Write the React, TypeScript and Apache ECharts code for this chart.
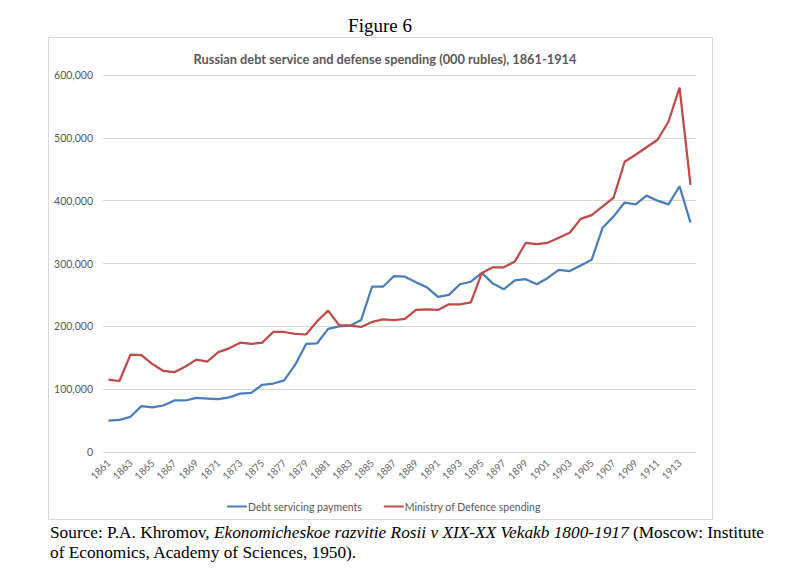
import React, { useEffect, useRef } from "react";
import * as echarts from "echarts";

// Years 1861-1914
const years: string[] = [];
for (let y = 1861; y <= 1914; y++) years.push(String(y));

// Debt servicing payments (000 rubles)
const debtService = [
  50000, 51000, 56000, 73000, 71000, 74000, 82000, 82000, 86000, 85000,
  84000, 87000, 93000, 94000, 107000, 109000, 114000, 139000, 172000, 173000,
  196000, 200000, 201000, 210000, 263000, 263000, 280000, 279000, 270000, 262000,
  247000, 250000, 267000, 271000, 285000, 268000, 259000, 273000, 275000, 267000,
  277000, 290000, 288000, 297000, 306000, 357000, 375000, 397000, 394000, 408000,
  400000, 394000, 423000, 365000,
];

// Ministry of Defence spending (000 rubles)
const defenceSpending = [
  115000, 113000, 155000, 154000, 140000, 129000, 127000, 136000, 147000, 144000,
  159000, 165000, 174000, 172000, 174000, 191000, 191000, 188000, 187000, 208000,
  225000, 202000, 201000, 199000, 207000, 211000, 210000, 212000, 226000, 227000,
  226000, 235000, 235000, 238000, 285000, 294000, 294000, 303000, 333000, 331000,
  333000, 341000, 349000, 371000, 377000, 391000, 405000, 462000, 473000, 485000,
  497000, 526000, 580000, 425000,
];

const seriesNames = ["Debt servicing payments", "Ministry of Defence spending"];
const figureLabel = "Figure 6";
const chartTitle = "Russian debt service and defense spending (000 rubles), 1861-1914";

const sansFont = "Lato, 'Open Sans', sans-serif";
const serifFont = "'Liberation Serif', 'DejaVu Serif', serif";

export default function App() {
  const ref = useRef<HTMLDivElement>(null);

  useEffect(() => {
    if (!ref.current) return;
    const chart = echarts.init(ref.current, undefined, { renderer: "svg" });
    chart.setOption({
      animation: false,
      backgroundColor: "#ffffff",
      title: {
        text: chartTitle,
        left: 380,
        textAlign: "center",
        top: 47,
        textStyle: {
          fontFamily: sansFont,
          fontSize: 12.8,
          fontWeight: "bold",
          color: "#595959",
        },
      },
      legend: {
        left: 222,
        top: 496,
        itemWidth: 20,
        itemHeight: 2,
        itemGap: 22,
        icon: "rect",
        textStyle: { fontFamily: sansFont, fontSize: 10.5, color: "#595959", padding: [0, 0, 0, -4] },
        data: seriesNames,
      },
      grid: { left: 103, right: 95, top: 75, bottom: 120 },
      xAxis: {
        type: "category",
        data: years,
        boundaryGap: true,
        axisLine: { lineStyle: { color: "#d9d9d9" } },
        axisTick: { show: false },
        axisLabel: {
          interval: 1,
          rotate: 45,
          margin: 9,
          fontFamily: sansFont,
          fontSize: 10,
          color: "#666666",
        },
      },
      yAxis: {
        type: "value",
        min: 0,
        max: 600000,
        interval: 100000,
        axisLine: { show: false },
        axisTick: { show: false },
        splitLine: { lineStyle: { color: "#d9d9d9" } },
        axisLabel: {
          margin: 10,
          fontFamily: sansFont,
          fontSize: 10.5,
          color: "#595959",
          formatter: (v: number) => v.toLocaleString("en-US"),
        },
      },
      series: [
        {
          name: seriesNames[0],
          type: "line",
          data: debtService,
          showSymbol: false,
          symbol: "none",
          lineStyle: { color: "#4a7ebb", width: 2.25 },
          itemStyle: { color: "#4a7ebb" },
        },
        {
          name: seriesNames[1],
          type: "line",
          data: defenceSpending,
          showSymbol: false,
          symbol: "none",
          lineStyle: { color: "#be4b48", width: 2.25 },
          itemStyle: { color: "#be4b48" },
        },
      ],
      graphic: [
        {
          type: "rect",
          silent: true,
          z: -1,
          shape: { x: 48.5, y: 37.5, width: 664, height: 482 },
          style: { fill: "none", stroke: "#d9d9d9", lineWidth: 1 },
        },
        {
          type: "text",
          x: 380,
          y: 16,
          style: {
            text: figureLabel,
            font: `19px ${serifFont}`,
            fill: "#000000",
            align: "center",
          },
        },
        {
          type: "text",
          x: 50,
          y: 522,
          style: {
            text:
              "{n|Source: P.A. Khromov, }{i|Ekonomicheskoe razvitie Rosii v XIX-XX Vekakb 1800-1917}{n| (Moscow: Institute}\n{n|of Economics, Academy of Sciences, 1950).}",
            rich: {
              n: { fontFamily: serifFont, fontSize: 17.3, fill: "#000000", lineHeight: 20 },
              i: { fontFamily: serifFont, fontSize: 17.3, fontStyle: "italic", fill: "#000000", lineHeight: 20 },
            },
          },
        },
      ],
    });
    return () => chart.dispose();
  }, []);

  return (
    <div
      ref={ref}
      style={{ position: "absolute", left: 0, top: 0, width: 791, height: 572 }}
    />
  );
}
